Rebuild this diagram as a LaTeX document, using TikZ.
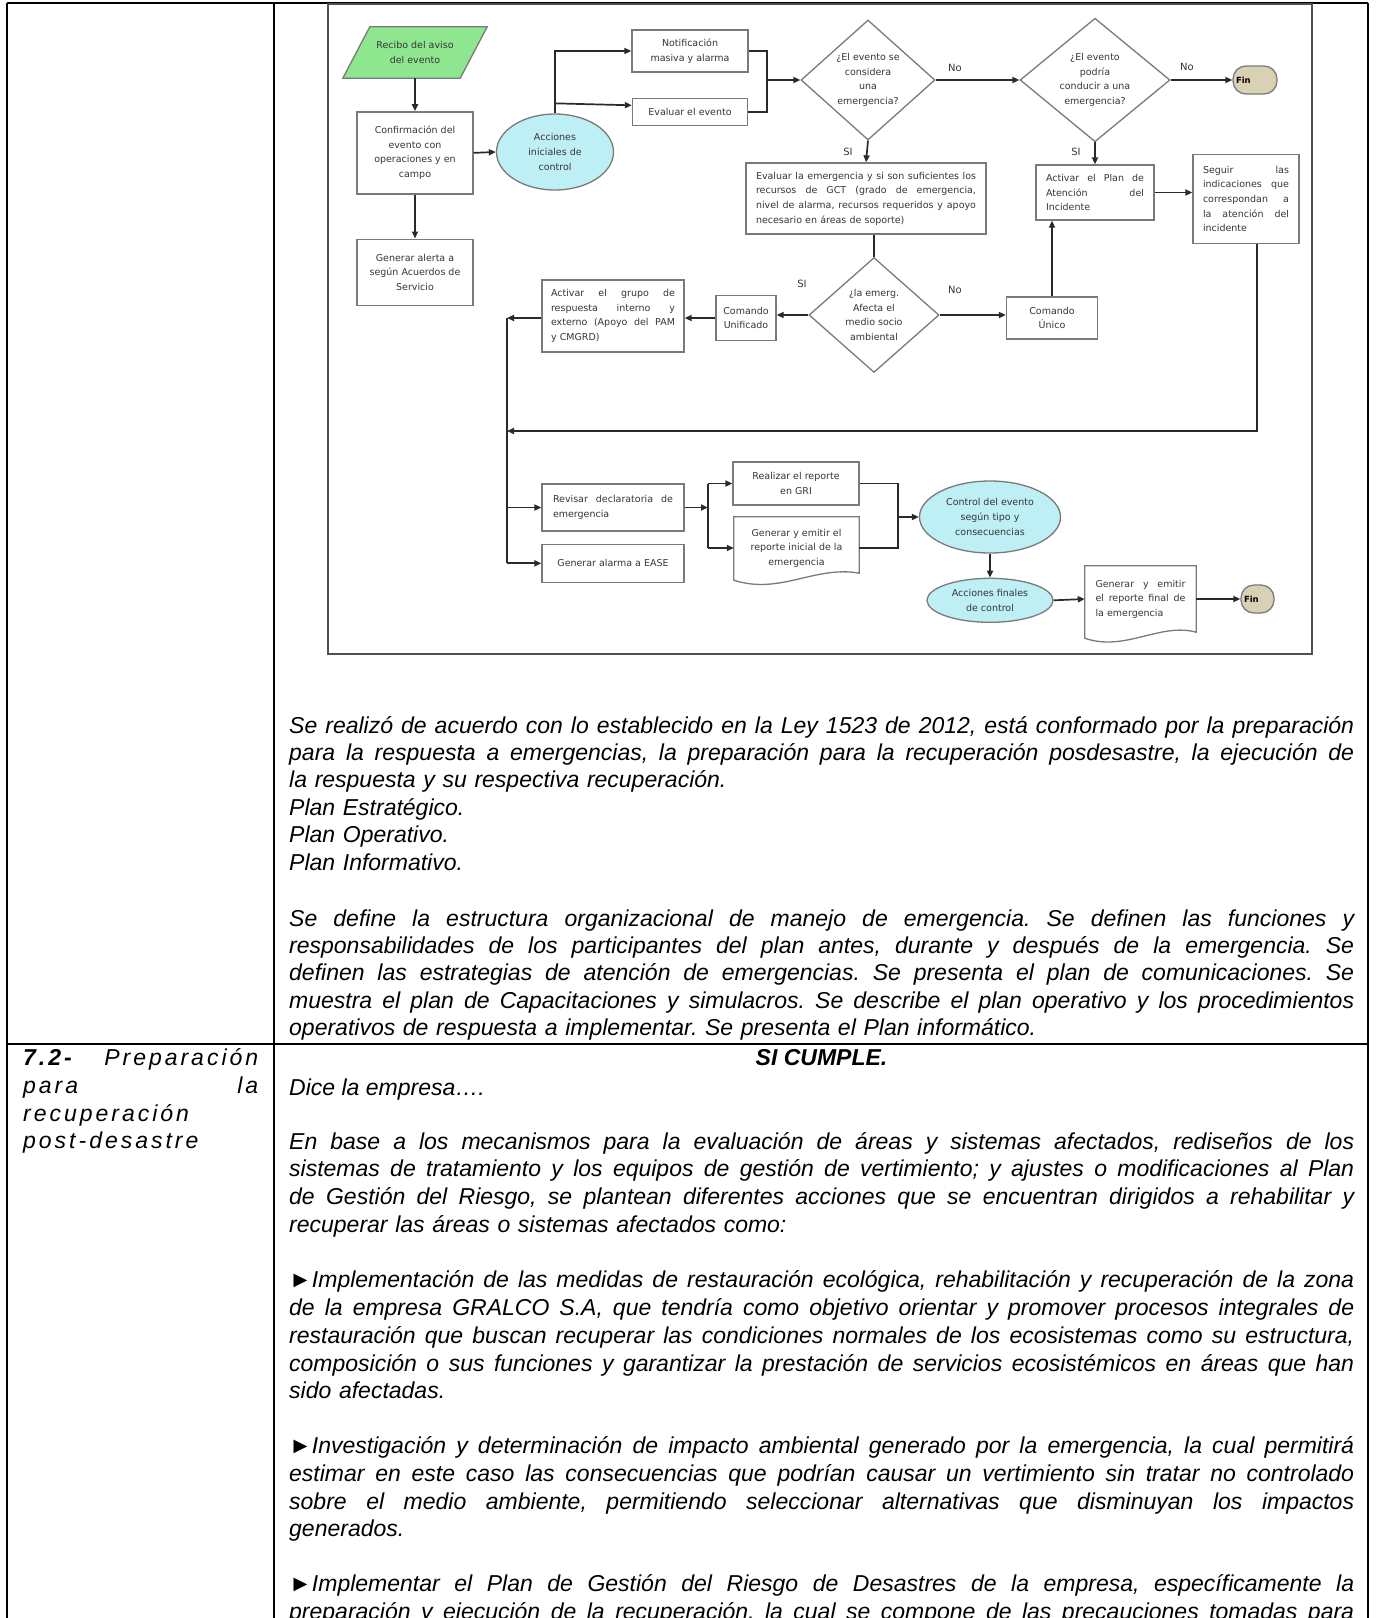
\documentclass[tikz,border=0pt]{standalone}
\usepackage{fontspec}
\usepackage{xcolor}
\usetikzlibrary{positioning,shapes.geometric,arrows.meta}
\newfontfamily\docfont{Liberation Sans}
\newfontfamily\colfont[LetterSpace=13]{Liberation Sans}
\newfontfamily\flowfont{DejaVu Sans}
\definecolor{verde}{HTML}{8EE68E}
\definecolor{celeste}{HTML}{BDEFF5}
\definecolor{arena}{HTML}{D9D1B3}
\definecolor{borde}{HTML}{7A7A7A}
\definecolor{texto}{HTML}{363636}
\definecolor{flecha}{HTML}{2A2A2A}
\definecolor{marco}{HTML}{505050}
\frenchspacing
% linea justificada a todo el ancho
\newcommand{\jl}[1]{\leavevmode\hbox to\hsize{\spaceskip=\fontdimen2\font plus 1fil minus \fontdimen4\font\relax #1}}
\pgfdeclarelayer{blanco}
\pgfdeclarelayer{fondo}
\pgfsetlayers{blanco,fondo,main}

\begin{document}
\begin{tikzpicture}[
    x=1pt, y=-1pt,
    flow/.style = {font=\flowfont\fontsize{9.5}{14.6}\selectfont, text=texto, inner sep=0pt, align=center},
    box/.style = {flow, draw=borde, line width=1.3pt, rectangle},
    elip/.style = {flow, draw=borde, line width=1.3pt, ellipse, fill=celeste},
    decision/.style = {flow, draw=borde, line width=1.3pt, diamond},
    fin/.style = {flow, draw=borde, line width=1.3pt, rounded corners=13pt, fill=arena, font=\flowfont\bfseries\fontsize{8.5}{10}\selectfont, text=black},
    etiqueta/.style = {font=\flowfont\fontsize{10}{12}\selectfont, text=texto, inner sep=0pt},
    line/.style = {draw=flecha, line width=1.7pt},
    arr/.style = {line, -{Triangle[length=7pt,width=6pt]}},
    parrafo/.style = {anchor=base west, inner sep=0pt, align=left, font=\docfont\itshape\fontsize{23}{27.45}\selectfont},
    parrafob/.style = {parrafo, font=\docfont\itshape\fontsize{23}{27.85}\selectfont},
    tabla/.style = {draw=black, line width=2.5pt}
  ]

  \useasboundingbox (0,0) rectangle (1376,1618);
  \begin{pgfonlayer}{blanco}
    \fill[white] (0,0) rectangle (1376,1618);
  \end{pgfonlayer}

  % Tabla
  \draw[tabla] (7,3) -- (1368,3);
  \draw[tabla] (7,3) -- (7,1618);
  \draw[tabla] (274,3) -- (274,1618);
  \draw[tabla] (1368,3) -- (1368,1618);
  \draw[tabla] (7,1044) -- (1368,1044);

  % Marco del diagrama
  \draw[draw=marco, line width=2pt] (328,4) rectangle (1312,654);

  % Nodos
  \node[flow, minimum width=117pt, minimum height=51pt] (recibo) at (415,52.5) {Recibo del aviso\\del evento};
  \node[box, minimum width=116pt, minimum height=82pt, below=33pt of recibo] (confirmacion) {Confirmación del\\evento con\\operaciones y en\\campo};
  \node[box, minimum width=116pt, minimum height=66pt, below=44pt of confirmacion] (alerta) {Generar alerta a\\según Acuerdos de\\Servicio};
  \node[elip, minimum width=117pt, minimum height=76pt] (acciones) at (555,152) {Acciones\\iniciales de\\control};
  \node[box, minimum width=116pt, minimum height=42pt] (notificacion) at (690,51) {Notificación\\masiva y alarma};
  \node[box, minimum width=115pt, minimum height=27pt, below=25pt of notificacion] (evaluar) {Evaluar el evento};
  \node[decision, minimum width=134pt, minimum height=120pt] (emergencia) at (868,80) {¿El evento se\\considera\\una\\emergencia?};
  \node[decision, minimum width=150pt, minimum height=120pt] (conducir) at (1095,80) {¿El evento\\podría\\conducir a una\\emergencia?};
  \node[fin, minimum width=44pt, minimum height=28pt, text width=38pt, align=left] (fin1) at (1255,80) {Fin};
  \node[box, minimum width=240pt, minimum height=71pt, text width=220pt, align=left] (evalemerg) at (866,198.5) {\jl{Evaluar la emergencia y si son suficientes los}\\\jl{recursos de GCT (grado de emergencia,}\\\jl{nivel de alarma, recursos requeridos y apoyo}\\necesario en áreas de soporte)};
  \node[box, minimum width=118pt, minimum height=55pt, text width=98pt, align=left] (planatencion) at (1095,192.5) {\jl{Activar el Plan de}\\\jl{Atención del}\\Incidente};
  \node[box, minimum width=106pt, minimum height=89pt, text width=86pt, align=left] (seguir) at (1246,199) {\jl{Seguir las}\\\jl{indicaciones que}\\\jl{correspondan a}\\\jl{la atención del}\\incidente};
  \node[decision, minimum width=130pt, minimum height=115pt] (afecta) at (874,315) {¿la emerg.\\Afecta el\\medio socio\\ambiental};
  \node[box, minimum width=60pt, minimum height=45pt] (unificado) at (746,318) {Comando\\Unificado};
  \node[box, minimum width=91pt, minimum height=42pt] (unico) at (1052,318) {Comando\\Único};
  \node[box, minimum width=142pt, minimum height=72pt, text width=124pt, align=left] (grupo) at (613,316) {\jl{Activar el grupo de}\\\jl{respuesta interno y}\\\jl{externo (Apoyo del PAM}\\y CMGRD)};
  \node[box, minimum width=142pt, minimum height=47pt, text width=120pt, align=left] (revisar) at (613,507.5) {\jl{Revisar declaratoria de}\\emergencia};
  \node[box, minimum width=142pt, minimum height=38pt, below=12pt of revisar] (alarmaease) {Generar alarma a EASE};
  \node[box, minimum width=126pt, minimum height=43pt] (reportegri) at (796,483.5) {Realizar el reporte\\en GRI};
  \node[flow, minimum width=125pt, minimum height=62pt] (reporteinicial) at (796.5,548) {Generar y emitir el\\reporte inicial de la\\emergencia};
  \node[elip, minimum width=141pt, minimum height=72pt] (controlev) at (990,517) {Control del evento\\según tipo y\\consecuencias};
  \node[elip, minimum width=126pt, minimum height=44pt, below=24pt of controlev] (accfinales) {Acciones finales\\de control};
  \node[flow, minimum width=111pt, minimum height=66pt, text width=90pt, align=left] (reportefinal) at (1140.5,599) {\jl{Generar y emitir}\\\jl{el reporte final de}\\la emergencia};
  \node[fin, minimum width=33pt, minimum height=28pt, text width=27pt, align=left] (fin2) at (1257.5,599) {Fin};

  % Formas de fondo
  \begin{pgfonlayer}{fondo}
    \draw[draw=borde, line width=1.3pt, fill=verde] ([xshift=13.5pt]recibo.north west) -- ([xshift=13.5pt]recibo.north east) -- ([xshift=-13.5pt]recibo.south east) -- ([xshift=-13.5pt]recibo.south west) -- cycle;
    \draw[draw=borde, line width=1.3pt, fill=white] (reporteinicial.north west) -- (reporteinicial.north east) -- ([yshift=6pt]reporteinicial.south east) .. controls +(-44,-8) and +(46,15) .. ([yshift=-1pt]reporteinicial.south west) -- cycle;
    \draw[draw=borde, line width=1.3pt, fill=white] (reportefinal.north west) -- (reportefinal.north east) -- (reportefinal.south east) .. controls +(-36,-10) and +(40,14) .. ([yshift=-6pt]reportefinal.south west) -- cycle;
  \end{pgfonlayer}

  % Etiquetas
  \node[etiqueta] (no1) at (955,68) {No};
  \node[etiqueta] (no2) at (1187,67) {No};
  \node[etiqueta] (si1) at (848,152) {SI};
  \node[etiqueta] (si2) at (1076,152) {SI};
  \node[etiqueta] (si3) at (802,284) {SI};
  \node[etiqueta] (no3) at (955,290) {No};

  % Líneas
  \coordinate (union1) at (767,80);
  \coordinate (bus) at (507,318);
  \coordinate (retorno) at (507,431);
  \coordinate (union2) at (708,507.5);
  \coordinate (union3) at (898,517);
  \draw[arr] (recibo.south) -- (confirmacion.north);
  \draw[arr] (confirmacion.south) -- (alerta.north);
  \draw[arr] (confirmacion.east) -- (acciones.west);
  \draw[arr] (acciones.north) |- (notificacion.west);
  \draw[arr] ([yshift=10pt]acciones.north) -- ([yshift=6.5pt]evaluar.west);
  \draw[line] (notificacion.east) -| (union1);
  \draw[line] (evaluar.east) -| (union1);
  \draw[arr] (union1) -- (emergencia.west);
  \draw[arr] (emergencia.east) -- (conducir.west);
  \draw[arr] (conducir.east) -- (fin1.west);
  \draw[arr] (emergencia.south) -- (evalemerg.north);
  \draw[arr] (conducir.south) -- (planatencion.north);
  \draw[arr] (planatencion.east) -- (planatencion.east -| seguir.west);
  \draw[line] (afecta.north |- evalemerg.south) -- (afecta.north);
  \draw[arr] (afecta.west) -- (afecta.west -| unificado.east);
  \draw[arr] (afecta.east) -- (afecta.east -| unico.west);
  \draw[arr] (unico.north) -- (unico.north |- planatencion.south);
  \draw[arr] (unificado.west) -- (unificado.west -| grupo.east);
  \draw[arr] (grupo.west |- bus) -- (bus);
  \draw[line] (bus) -- (bus |- alarmaease.west);
  \draw[arr] ([xshift=11pt]seguir.south) |- (retorno);
  \draw[arr] (bus |- revisar.west) -- (revisar.west);
  \draw[arr] (bus |- alarmaease.west) -- (alarmaease.west);
  \draw[arr] (revisar.east) -- (union2);
  \draw[line] (union2 |- reportegri.west) -- (union2 |- reporteinicial.west);
  \draw[arr] (union2 |- reportegri.west) -- (reportegri.west);
  \draw[arr] (union2 |- reporteinicial.west) -- (reporteinicial.west);
  \draw[line] (reportegri.east) -| (union3);
  \draw[line] (reporteinicial.east) -| (union3);
  \draw[arr] (union3) -- (controlev.west);
  \draw[arr] (controlev.south) -- (accfinales.north);
  \draw[arr] (accfinales.east) -- (reportefinal.west);
  \draw[arr] (reportefinal.east) -- (fin2.west);

  % Texto
  \node[parrafo, text width=1065pt] (ley) at (289,733) {\jl{Se realizó de acuerdo con lo establecido en la Ley 1523 de 2012, está conformado por la preparación}\\\jl{para la respuesta a emergencias, la preparación para la recuperación posdesastre, la ejecución de}\\la respuesta y su respectiva recuperación.\\Plan Estratégico.\\Plan Operativo.\\Plan Informativo.};
  \node[parrafo, text width=1065pt] (estructura) at (289,926) {\jl{Se define la estructura organizacional de manejo de emergencia. Se definen las funciones y}\\\jl{responsabilidades de los participantes del plan antes, durante y después de la emergencia. Se}\\\jl{definen las estrategias de atención de emergencias. Se presenta el plan de comunicaciones. Se}\\\jl{muestra el plan de Capacitaciones y simulacros. Se describe el plan operativo y los procedimientos}\\operativos de respuesta a implementar. Se presenta el Plan informático.};
  \node[parrafob, text width=235pt, font=\colfont\itshape\fontsize{23}{27.85}\selectfont] (criterio) at (23,1065.3) {\jl{\textbf{7.2-} Preparación}\\\jl{para la}\\recuperación\\post-desastre};
  \node[anchor=base, inner sep=0pt, font=\docfont\bfseries\itshape\fontsize{23}{27.85}\selectfont] (cumple) at (821.5,1065.3) {SI CUMPLE.};
  \node[parrafob] (dice) at (289,1095.5) {Dice la empresa….};
  \node[parrafob, text width=1065pt] (enbase) at (289,1149) {\jl{En base a los mecanismos para la evaluación de áreas y sistemas afectados, rediseños de los}\\\jl{sistemas de tratamiento y los equipos de gestión de vertimiento; y ajustes o modificaciones al Plan}\\\jl{de Gestión del Riesgo, se plantean diferentes acciones que se encuentran dirigidos a rehabilitar y}\\recuperar las áreas o sistemas afectados como:};
  \node[parrafob, text width=1065pt] (restauracion) at (289,1287.5) {\jl{►Implementación de las medidas de restauración ecológica, rehabilitación y recuperación de la zona}\\\jl{de la empresa GRALCO S.A, que tendría como objetivo orientar y promover procesos integrales de}\\\jl{restauración que buscan recuperar las condiciones normales de los ecosistemas como su estructura,}\\\jl{composición o sus funciones y garantizar la prestación de servicios ecosistémicos en áreas que han}\\sido afectadas.};
  \node[parrafob, text width=1065pt] (investigacion) at (289,1453.3) {\jl{►Investigación y determinación de impacto ambiental generado por la emergencia, la cual permitirá}\\\jl{estimar en este caso las consecuencias que podrían causar un vertimiento sin tratar no controlado}\\\jl{sobre el medio ambiente, permitiendo seleccionar alternativas que disminuyan los impactos}\\generados.};
  \node[parrafob, text width=1065pt] (implementar) at (289,1591.6) {\jl{►Implementar el Plan de Gestión del Riesgo de Desastres de la empresa, específicamente la}\\\jl{preparación y ejecución de la recuperación, la cual se compone de las precauciones tomadas para}};
\end{tikzpicture}
\end{document}
